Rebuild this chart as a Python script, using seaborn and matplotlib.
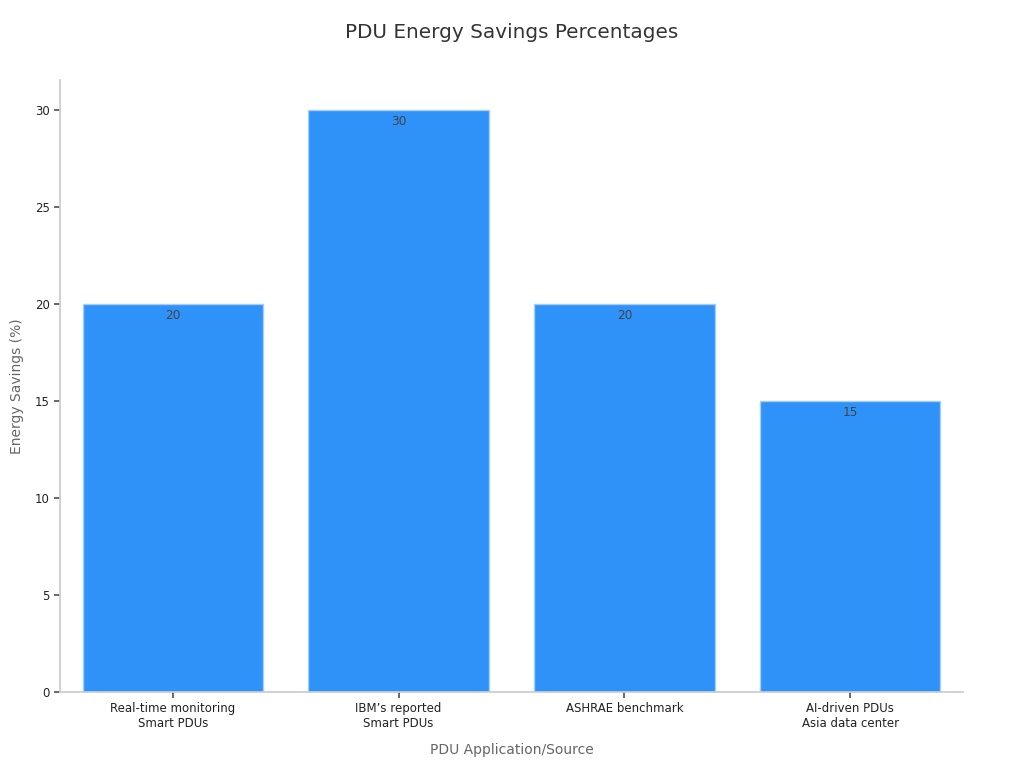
import matplotlib
matplotlib.use("Agg")
import matplotlib.pyplot as plt
import seaborn as sns
import pandas as pd

categories = ["Real-time monitoring\nSmart PDUs", "IBM\u2019s reported\nSmart PDUs",
              "ASHRAE benchmark", "AI-driven PDUs\nAsia data center"]
savings = [20, 30, 20, 15]

sns.set_theme(style="white")
plt.rcParams['font.family'] = ['DejaVu Sans']

df = pd.DataFrame({"cat": categories, "val": savings})

fig = plt.figure(figsize=(10.24, 7.68), dpi=100)
ax = fig.add_axes([0.0586, 0.099, 0.8818, 0.797])
sns.barplot(data=df, x="cat", y="val", color="#2f92f8", saturation=1, width=0.8,
            edgecolor="#a8cdf5", linewidth=1, ax=ax)
ax.set_xlim(-0.5, 3.5)
ax.set_ylim(0, 31.55)
ax.set_yticks([0, 5, 10, 15, 20, 25, 30])
for c in ax.containers:
    ax.bar_label(c, labels=[f"{v:g}" for v in savings], label_type="edge", padding=-13,
                 fontsize=8.7, color="#444444")
for s in ["top", "right"]:
    ax.spines[s].set_visible(False)
for s in ["left", "bottom"]:
    ax.spines[s].set_color("#cccccc")
ax.tick_params(axis="both", which="both", length=4, color="#555555", labelsize=8.5,
               labelcolor="#222222", bottom=True, left=True)
ax.set_xlabel("PDU Application/Source", fontsize=10, color="#666666", labelpad=9)
ax.set_ylabel("Energy Savings (%)", fontsize=10, color="#666666", labelpad=8)
fig.suptitle("PDU Energy Savings Percentages", fontsize=14.4, color="#333333", y=0.97)
fig.savefig("out.png", dpi=100)
